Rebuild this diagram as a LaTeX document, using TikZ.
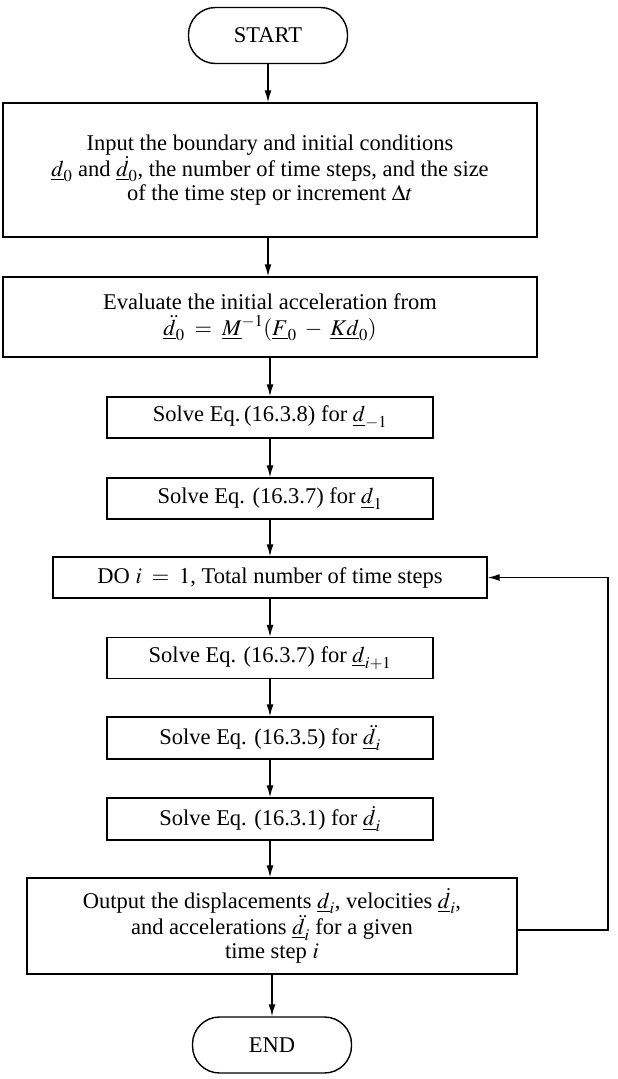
\documentclass[tikz,border=0pt]{standalone}
\usepackage{mathptmx}
\usepackage{fontspec}
\setmainfont{Liberation Serif}
\usetikzlibrary{arrows.meta}
\begin{document}
\begin{tikzpicture}[x=1pt,y=-1pt,
  line width=1.4pt,
  every node/.style={font=\fontsize{22.5}{24}\selectfont},
  boxnode/.style={draw, rectangle, align=center, inner sep=0pt},
  termnode/.style={draw, rectangle, rounded corners=27pt, minimum width=159pt, minimum height=56pt, inner sep=0pt},
  flow/.style={-{Latex[length=12pt,width=7pt]}}
]
\useasboundingbox (0,0) rectangle (618,1079);
\node[termnode] (start) at (268,35.5) {START};
\node[boxnode, minimum width=534pt, minimum height=134pt] (input) at (270,170) {Input the boundary and initial conditions\\
$\underline{d}_0$ and $\underline{\dot{d}}_0$, the number of time steps, and the size\\
of the time step or increment $\Delta t$};
\node[boxnode, minimum width=534pt, minimum height=80pt] (eval) at (270,317) {Evaluate the initial acceleration from\\[2pt]
$\underline{\ddot{d}}_0 \;=\; \underline{M}^{-1}(\underline{F}_0 \;-\; \underline{K}\underline{d}_0)$};
\node[boxnode, minimum width=326pt, minimum height=41pt] (s8) at (270,417.5) {Solve Eq.\,(16.3.8) for $\underline{d}_{-1}$};
\node[boxnode, minimum width=326pt, minimum height=41pt] (s7a) at (270,498.5) {Solve Eq. (16.3.7) for $\underline{d}_1$};
\node[boxnode, minimum width=434pt, minimum height=41pt] (do) at (270,577.5) {DO $i \;=\; 1$, Total number of time steps};
\node[boxnode, minimum width=326pt, minimum height=41pt] (s7b) at (270,658) {Solve Eq. (16.3.7) for $\underline{d}_{i+1}$};
\node[boxnode, minimum width=326pt, minimum height=42pt] (s5) at (270,738) {Solve Eq. (16.3.5) for $\underline{\ddot{d}}_i$};
\node[boxnode, minimum width=326pt, minimum height=42pt] (s1) at (270,819) {Solve Eq. (16.3.1) for $\underline{\dot{d}}_i$};
\node[boxnode, minimum width=490pt, minimum height=96pt] (out) at (272,926) {Output the displacements $\underline{d}_i$, velocities $\underline{\dot{d}}_i$,\\
and accelerations $\underline{\ddot{d}}_i$ for a given\\
time step $i$};
\node[termnode] (end) at (272,1045) {END};
\coordinate (lb) at (608,930);
\coordinate (lt) at (608,577.5);
\draw[flow] (start.south) -- (start.south |- input.north);
\draw[flow] (input.south -| start.south) -- (start.south |- eval.north);
\draw[flow] (eval.south) -- (s8.north);
\draw[flow] (s8) -- (s7a);
\draw[flow] (s7a) -- (do);
\draw[flow] (do) -- (s7b);
\draw[flow] (s7b) -- (s5);
\draw[flow] (s5) -- (s1);
\draw[flow] (s1.south) -- (s1.south |- out.north);
\draw[flow] (end.north |- out.south) -- (end.north);
\draw[flow] (out.east |- lb) -- (lb) -- (lt) -- (do.east);
\end{tikzpicture}
\end{document}
